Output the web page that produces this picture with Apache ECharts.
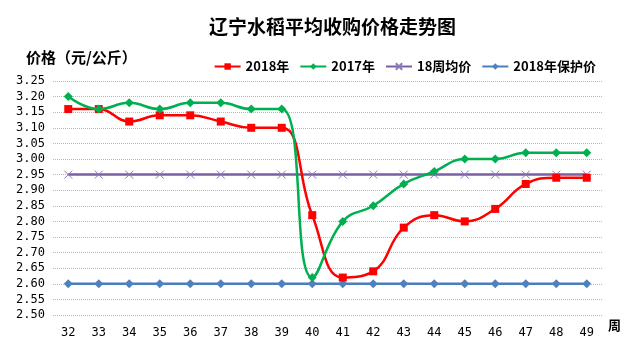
<!DOCTYPE html>
<html><head><meta charset="utf-8">
<script src="https://cdn.jsdelivr.net/npm/echarts@6/dist/echarts.min.js"></script>
<style>html,body{margin:0;padding:0;background:#fff}#c{width:628px;height:353px}</style>
</head><body><div id="c"></div>
<script>
const weeks = ['32','33','34','35','36','37','38','39','40','41','42','43','44','45','46','47','48','49'];
const price2018 = [3.16,3.16,3.12,3.14,3.14,3.12,3.10,3.10,2.82,2.62,2.64,2.78,2.82,2.80,2.84,2.92,2.94,2.94];
const price2017 = [3.20,3.16,3.18,3.16,3.18,3.18,3.16,3.16,2.62,2.80,2.85,2.92,2.96,3.00,3.00,3.02,3.02,3.02];
const avg18 = [2.95,2.95,2.95,2.95,2.95,2.95,2.95,2.95,2.95,2.95,2.95,2.95,2.95,2.95,2.95,2.95,2.95,2.95];
const protect2018 = [2.60,2.60,2.60,2.60,2.60,2.60,2.60,2.60,2.60,2.60,2.60,2.60,2.60,2.60,2.60,2.60,2.60,2.60];
const seriesNames = ['2018年','2017年','18周均价','2018年保护价'];

const chart = echarts.init(document.getElementById('c'));
const font = '"Noto Sans CJK SC", sans-serif';
chart.setOption({
  animation:false,
  textStyle:{fontFamily:font},
  title:{text:'辽宁水稻平均收购价格走势图',left:204,top:12,
    textStyle:{fontSize:19,fontWeight:'bold',color:'#000',fontFamily:font}},
  legend:{data:seriesNames,top:55,right:27,itemWidth:26,itemHeight:8,itemGap:10,
    textStyle:{fontSize:13,fontWeight:'bold',color:'#000',fontFamily:font}},
  grid:{left:53,right:26,top:81,bottom:38},
  xAxis:{type:'category',data:weeks,boundaryGap:true,
    name:'周',nameLocation:'end',nameGap:6,
    nameTextStyle:{fontSize:13,fontWeight:'bold',color:'#000',verticalAlign:'top',padding:[4,0,0,0]},
    axisLine:{show:false},axisTick:{show:false},
    axisLabel:{color:'#000',fontSize:12,margin:12,fontFamily:'"DejaVu Sans Mono", monospace'}},
  yAxis:{type:'value',min:2.5,max:3.25,interval:0.05,
    name:'价格（元/公斤）',nameLocation:'end',nameGap:16,
    nameTextStyle:{fontSize:15,fontWeight:'bold',color:'#000',align:'left',padding:[0,0,0,-27]},
    axisLine:{show:false},axisTick:{show:false},
    axisLabel:{color:'#000',fontSize:12,margin:8,formatter:v=>v.toFixed(2),fontFamily:'"DejaVu Sans Mono", monospace'},
    splitLine:{lineStyle:{color:'#b8b8b8',type:'dotted',width:1}}},
  series:[
    {name:seriesNames[0],type:'line',data:price2018,smooth:0.45,symbol:'rect',symbolSize:8,
     itemStyle:{color:'#FF0000'},lineStyle:{width:2.5,color:'#FF0000'},z:4},
    {name:seriesNames[1],type:'line',data:price2017,smooth:0.45,symbol:'diamond',symbolSize:9,
     itemStyle:{color:'#00B050'},lineStyle:{width:2.5,color:'#00B050'},z:5},
    {name:seriesNames[2],type:'line',data:avg18,symbol:'path://M0,0L10,10M10,0L0,10',symbolSize:8,
     itemStyle:{color:'#fff',borderColor:'#8A78B8',borderWidth:1},lineStyle:{width:2.5,color:'#7A5FA5'},z:3},
    {name:seriesNames[3],type:'line',data:protect2018,symbol:'diamond',symbolSize:9,
     itemStyle:{color:'#4F81BD'},lineStyle:{width:2.5,color:'#4A7EBB'},z:3}
  ]
});
</script></body></html>
